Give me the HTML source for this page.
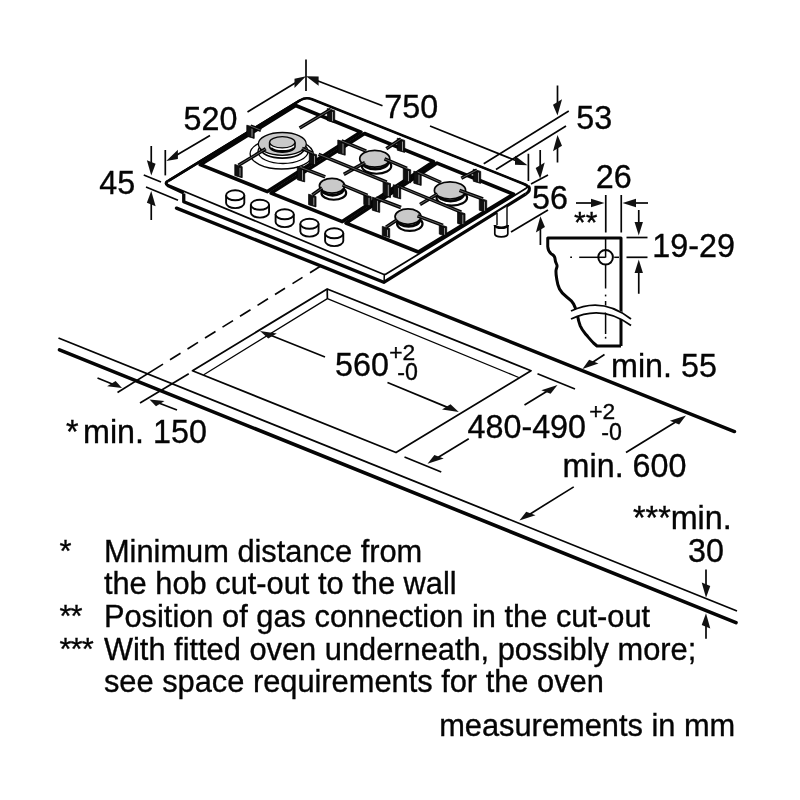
<!DOCTYPE html>
<html><head><meta charset="utf-8"><title>Hob installation dimensions</title>
<style>
html,body{margin:0;padding:0;background:#fff;}
body{width:800px;height:800px;overflow:hidden;font-family:"Liberation Sans",sans-serif;}
svg{display:block;font-family:"Liberation Sans",sans-serif;}
svg line, svg path, svg ellipse, svg polyline{stroke:#050505;stroke-linecap:butt;stroke-linejoin:round;}
svg text{fill:#050505;stroke:#050505;stroke-width:0.35px;}
svg{will-change:transform;}
</style></head><body>
<svg width="800" height="800" viewBox="0 0 800 800">
<rect x="0" y="0" width="800" height="800" fill="#fff" stroke="none"/>
<line x1="58.50" y1="338.00" x2="737.00" y2="611.00" stroke-width="1.8" />
<line x1="59.50" y1="349.90" x2="736.00" y2="622.60" stroke-width="3.6" style="stroke-linecap:round"/>
<line x1="176.50" y1="208.15" x2="734.50" y2="431.60" stroke-width="3.4" style="stroke-linecap:round"/>
<line x1="320.00" y1="266.50" x2="310.00" y2="272.72" stroke-width="1.7" />
<line x1="302.50" y1="277.38" x2="292.50" y2="283.61" stroke-width="1.7" />
<line x1="285.00" y1="288.27" x2="275.00" y2="294.49" stroke-width="1.7" />
<line x1="268.00" y1="298.84" x2="257.50" y2="305.38" stroke-width="1.7" />
<line x1="250.50" y1="309.73" x2="240.00" y2="316.26" stroke-width="1.7" />
<line x1="233.00" y1="320.61" x2="222.50" y2="327.14" stroke-width="1.7" />
<line x1="215.50" y1="331.50" x2="205.00" y2="338.03" stroke-width="1.7" />
<line x1="198.00" y1="342.38" x2="187.50" y2="348.92" stroke-width="1.7" />
<line x1="180.50" y1="353.27" x2="170.00" y2="359.80" stroke-width="1.7" />
<line x1="163.00" y1="364.15" x2="117.50" y2="392.45" stroke-width="1.7" />
<line x1="188.75" y1="373.75" x2="140.00" y2="403.00" stroke-width="1.7" />
<line x1="97.50" y1="378.00" x2="113.48" y2="384.52" stroke-width="1.7" />
<polygon points="122.00,388.00 107.09,386.26 115.62,381.04" fill="#111" stroke="none"/>
<line x1="177.00" y1="410.00" x2="158.09" y2="402.78" stroke-width="1.7" />
<polygon points="149.50,399.50 155.98,406.21 164.51,400.99" fill="#111" stroke="none"/>
<path d="M192.50,370.75 L327.20,289.00 L531.00,370.75 L396.00,452.50 Z" stroke-width="1.8" fill="none" />
<path d="M203.75,374.80 L327.40,298.60 L518.75,377.50" stroke-width="1.3" fill="none" />
<line x1="327.20" y1="289.00" x2="327.40" y2="298.60" stroke-width="1.7" />
<line x1="325.00" y1="357.00" x2="270.03" y2="335.01" stroke-width="1.7" />
<polygon points="260.00,331.00 268.27,338.62 276.80,333.40" fill="#111" stroke="none"/>
<line x1="387.50" y1="382.50" x2="448.77" y2="407.87" stroke-width="1.7" />
<polygon points="458.75,412.00 442.01,409.45 450.54,404.23" fill="#111" stroke="none"/>
<line x1="537.50" y1="373.75" x2="575.00" y2="389.00" stroke-width="1.7" />
<line x1="404.50" y1="457.00" x2="441.25" y2="472.00" stroke-width="1.7" />
<line x1="524.50" y1="405.00" x2="548.26" y2="390.60" stroke-width="1.7" />
<polygon points="557.50,385.00 550.60,393.84 541.31,390.15" fill="#111" stroke="none"/>
<line x1="468.75" y1="438.75" x2="436.74" y2="458.15" stroke-width="1.7" />
<polygon points="427.50,463.75 443.69,458.60 434.40,454.91" fill="#111" stroke="none"/>
<line x1="604.50" y1="354.50" x2="591.52" y2="363.06" stroke-width="1.7" />
<polygon points="582.50,369.00 598.42,363.42 589.13,359.73" fill="#111" stroke="none"/>
<line x1="626.00" y1="452.50" x2="676.81" y2="421.17" stroke-width="1.7" />
<polygon points="686.00,415.50 679.15,424.43 669.86,420.74" fill="#111" stroke="none"/>
<line x1="573.75" y1="486.90" x2="528.58" y2="514.91" stroke-width="1.7" />
<polygon points="519.40,520.60 535.52,515.33 526.23,511.64" fill="#111" stroke="none"/>
<line x1="706.00" y1="569.40" x2="706.00" y2="587.00" stroke-width="1.7" />
<polygon points="706.00,597.80 710.27,586.00 701.73,582.60" fill="#111" stroke="none"/>
<line x1="706.00" y1="638.70" x2="706.00" y2="624.00" stroke-width="1.7" />
<polygon points="706.00,613.20 710.27,628.40 701.73,625.00" fill="#111" stroke="none"/>
<text x="183.50" y="130.00" font-size="32.3" text-anchor="start" >520</text>
<text x="384.30" y="118.00" font-size="32.3" text-anchor="start" >750</text>
<text x="99.30" y="193.50" font-size="32.3" text-anchor="start" >45</text>
<text x="576.30" y="128.90" font-size="32.3" text-anchor="start" >53</text>
<text x="532.00" y="208.50" font-size="32.3" text-anchor="start" >56</text>
<text x="595.70" y="187.50" font-size="32.3" text-anchor="start" >26</text>
<text x="652.30" y="257.30" font-size="32.3" text-anchor="start" >19-29</text>
<text x="574.00" y="231.80" font-size="30.038999999999998" text-anchor="start" >**</text>
<text x="335.00" y="375.70" font-size="32.3" text-anchor="start" >560</text>
<text x="389.30" y="360.20" font-size="22.8" text-anchor="start" >+2</text>
<text x="397.30" y="380.30" font-size="23.2" text-anchor="start" >-0</text>
<text x="467.50" y="437.50" font-size="32.3" text-anchor="start" >480-490</text>
<text x="589.30" y="419.20" font-size="22.8" text-anchor="start" >+2</text>
<text x="601.30" y="439.80" font-size="23.2" text-anchor="start" >-0</text>
<text x="611.00" y="376.50" font-size="32.3" text-anchor="start" >min. 55</text>
<text x="562.60" y="476.80" font-size="32.3" text-anchor="start" >min. 600</text>
<text x="66.00" y="443.30" font-size="32.3" text-anchor="start" >*</text>
<text x="83.00" y="443.30" font-size="32.3" text-anchor="start" >min. 150</text>
<text x="633.00" y="528.80" font-size="32.3" text-anchor="start" >***min.</text>
<text x="688.00" y="562.00" font-size="32.3" text-anchor="start" >30</text>
<text x="59.50" y="561.80" font-size="30.8" text-anchor="start" >*</text>
<text x="103.95" y="561.80" font-size="30.8" text-anchor="start" >Minimum distance from</text>
<text x="103.95" y="594.40" font-size="30.8" text-anchor="start" >the hob cut-out to the wall</text>
<text x="59.50" y="627.00" font-size="30.8" text-anchor="start" letter-spacing="-0.9">**</text>
<text x="103.95" y="627.00" font-size="30.8" text-anchor="start" >Position of gas connection in the cut-out</text>
<text x="59.50" y="659.60" font-size="30.8" text-anchor="start" letter-spacing="-0.9">***</text>
<text x="103.95" y="659.60" font-size="30.8" text-anchor="start" >With fitted oven underneath, possibly more;</text>
<text x="103.95" y="692.30" font-size="30.8" text-anchor="start" >see space requirements for the oven</text>
<text x="439.20" y="735.80" font-size="30.8" text-anchor="start" >measurements in mm</text>
<line x1="165.30" y1="150.00" x2="165.30" y2="175.40" stroke-width="1.7" />
<line x1="210.00" y1="135.50" x2="175.57" y2="155.65" stroke-width="1.7" />
<polygon points="166.25,161.10 177.90,158.88 177.90,149.68" fill="#111" stroke="none"/>
<line x1="247.50" y1="112.00" x2="296.78" y2="81.93" stroke-width="1.7" />
<polygon points="306.00,76.30 294.48,87.93 294.48,78.73" fill="#111" stroke="none"/>
<line x1="306.00" y1="59.50" x2="306.00" y2="91.00" stroke-width="1.7" />
<line x1="382.50" y1="105.80" x2="316.08" y2="80.19" stroke-width="1.7" />
<polygon points="306.00,76.30 318.60,85.76 318.60,76.56" fill="#111" stroke="none"/>
<line x1="430.00" y1="126.00" x2="517.48" y2="161.26" stroke-width="1.7" />
<polygon points="527.50,165.30 514.98,164.85 514.98,155.65" fill="#111" stroke="none"/>
<line x1="528.40" y1="153.75" x2="528.40" y2="181.00" stroke-width="1.7" />
<line x1="151.25" y1="146.00" x2="151.25" y2="164.60" stroke-width="1.7" />
<polygon points="151.25,175.40 155.62,163.63 146.88,160.17" fill="#111" stroke="none"/>
<line x1="151.25" y1="220.00" x2="151.25" y2="201.80" stroke-width="1.7" />
<polygon points="151.25,191.00 155.62,206.23 146.88,202.77" fill="#111" stroke="none"/>
<line x1="143.75" y1="175.00" x2="161.00" y2="182.00" stroke-width="1.7" />
<line x1="146.00" y1="187.00" x2="178.00" y2="200.30" stroke-width="1.7" />
<line x1="557.50" y1="85.50" x2="557.50" y2="104.70" stroke-width="1.7" />
<polygon points="557.50,115.50 552.98,104.77 562.02,99.23" fill="#111" stroke="none"/>
<line x1="557.50" y1="162.50" x2="557.50" y2="145.80" stroke-width="1.7" />
<polygon points="557.50,135.00 552.98,151.27 562.02,145.73" fill="#111" stroke="none"/>
<line x1="483.75" y1="163.75" x2="568.75" y2="111.00" stroke-width="1.7" />
<line x1="496.00" y1="169.50" x2="566.00" y2="126.00" stroke-width="1.7" />
<line x1="540.20" y1="150.00" x2="540.20" y2="168.00" stroke-width="1.7" />
<polygon points="540.20,178.80 535.68,168.07 544.72,162.53" fill="#111" stroke="none"/>
<line x1="540.40" y1="245.00" x2="540.40" y2="227.10" stroke-width="1.7" />
<polygon points="540.40,216.30 535.88,232.57 544.92,227.03" fill="#111" stroke="none"/>
<line x1="531.00" y1="184.00" x2="548.00" y2="175.00" stroke-width="1.7" />
<line x1="511.00" y1="232.00" x2="548.00" y2="210.00" stroke-width="1.7" />
<line x1="605.75" y1="195.00" x2="605.75" y2="232.50" stroke-width="1.7" />
<line x1="621.25" y1="195.00" x2="621.25" y2="232.50" stroke-width="1.7" />
<line x1="576.00" y1="203.00" x2="593.70" y2="203.00" stroke-width="1.7" />
<polygon points="604.50,203.00 591.00,207.20 591.00,198.80" fill="#111" stroke="none"/>
<line x1="648.00" y1="203.00" x2="633.30" y2="203.00" stroke-width="1.7" />
<polygon points="622.50,203.00 636.00,198.80 636.00,207.20" fill="#111" stroke="none"/>
<line x1="605.60" y1="238.00" x2="605.60" y2="257.50" stroke-width="1.5" />
<line x1="605.60" y1="264.80" x2="605.60" y2="288.50" stroke-width="1.5" />
<line x1="605.60" y1="294.60" x2="605.60" y2="296.40" stroke-width="1.5" />
<line x1="605.60" y1="301.00" x2="605.60" y2="334.00" stroke-width="1.5" />
<line x1="605.60" y1="336.80" x2="605.60" y2="338.60" stroke-width="1.5" />
<line x1="570.20" y1="257.30" x2="572.00" y2="257.30" stroke-width="1.5" />
<line x1="579.20" y1="257.30" x2="605.60" y2="257.30" stroke-width="1.5" />
<line x1="614.20" y1="257.30" x2="619.00" y2="257.30" stroke-width="1.5" />
<line x1="626.50" y1="237.50" x2="647.50" y2="237.50" stroke-width="1.7" />
<line x1="626.50" y1="257.30" x2="647.50" y2="257.30" stroke-width="1.7" />
<ellipse cx="605.60" cy="257.30" rx="7.30" ry="7.30" stroke-width="2.0" fill="none" />
<line x1="638.75" y1="210.00" x2="638.75" y2="224.70" stroke-width="1.7" />
<polygon points="638.75,235.50 634.55,222.00 642.95,222.00" fill="#111" stroke="none"/>
<line x1="638.75" y1="293.75" x2="638.75" y2="270.30" stroke-width="1.7" />
<polygon points="638.75,259.50 642.95,273.00 634.55,273.00" fill="#111" stroke="none"/>
<path d="M621.0,346 L621.0,238 L547.75,238 L547.75,246.5 C547.9,250 549,251.8 551,253.6 C553,255.2 554.6,255.6 554.9,258 C555.2,261 555.3,262.3 556.6,264.3 C558,266.4 556.2,268 556,270.5 C555.8,274 556.3,276 556.8,279.5 C557.3,283 557.8,285.5 559.5,289 C561.5,293 564,295 567,297.3 C570,299.5 572,300.8 573.6,304 C575,306.8 575.8,308.8 576.4,311.5" stroke-width="3.0" fill="none" />
<path d="M577.6,316 C578.2,319.5 578.8,322 580.2,325.8 C581.8,329.8 583.5,331.6 586.2,334.8 C589,338 591,340.5 593.5,343 L597,346 L621.0,346" stroke-width="3.0" fill="none" />
<path d="M571,315 Q602,298 631,322" stroke-width="7" fill="none" style="stroke:#fff"/>
<path d="M571,311 Q602,296 631,319" stroke-width="1.8" fill="none" />
<path d="M571,319 Q602,304 631,325.5" stroke-width="1.8" fill="none" />
<path d="M183.75,193.50 L183.75,201.75 L383.80,282.30 L525.60,194.20" stroke-width="3.3" fill="none" />
<path d="M525.6,194.2 Q531.3,190.6 528.6,186.0" stroke-width="3.0" fill="none" />
<line x1="384.30" y1="275.00" x2="384.10" y2="282.30" stroke-width="1.5" />
<path d="M300.25,100.19 Q305.80,96.80 311.84,99.21 L524.96,184.35 Q529.60,186.20 525.34,188.81 L386.08,274.02 Q384.80,274.80 383.41,274.22 L168.19,184.74 Q164.50,183.20 167.91,181.11 Z" stroke-width="1.7" fill="none" />
<path d="M168.74,180.61 L300.15,100.26 Q305.80,96.80 312.07,99.30 L523.33,183.70 Q529.60,186.20 528.6,188.6" stroke-width="2.6" fill="none" />
<path d="M168.74,180.61 L300.15,100.26" stroke-width="2.6" fill="none" />
<path d="M168.2,180.7 Q163.9,183.2 168.2,186 L183.75,193.2" stroke-width="3.0" fill="none" />
<path d="M295.70,105.50 L360.93,132.07 L267.37,191.59 L200.20,164.70 Z" stroke-width="3.6" fill="none" />
<path d="M364.52,133.53 L433.57,161.65 L342.29,221.58 L271.08,193.07 Z" stroke-width="3.6" fill="none" />
<path d="M437.05,163.07 L513.50,194.20 L418.30,252.00 L346.00,223.06 Z" stroke-width="3.6" fill="none" />
<ellipse cx="281.60" cy="153.80" rx="31.50" ry="15.20" stroke-width="1.3" fill="#fff" />
<ellipse cx="283.00" cy="151.50" rx="25.00" ry="12.00" stroke-width="1.3" fill="#fff" />
<ellipse cx="282.30" cy="148.30" rx="22.00" ry="9.80" stroke-width="1.7" fill="#fff" />
<ellipse cx="282.30" cy="143.90" rx="24.00" ry="11.40" stroke-width="1.3" fill="#c9c9c9" />
<path d="M269.6,142.3 L269.6,146.5 A12.7,5.6 0 0 0 295,146.5 L295,142.3" stroke-width="1.6" fill="#fff" />
<path d="M271,148 A12.7,5.6 0 0 0 294,148" stroke-width="2.2" fill="none" />
<ellipse cx="282.30" cy="142.30" rx="12.70" ry="5.60" stroke-width="1.3" fill="#c9c9c9" />
<ellipse cx="376.55" cy="165.95" rx="14.70" ry="7.81" stroke-width="2.2" fill="#fff" />
<ellipse cx="375.35" cy="161.95" rx="12.90" ry="7.22" stroke-width="2.8" fill="#fff" />
<ellipse cx="374.75" cy="158.75" rx="15.00" ry="8.40" stroke-width="1.7" fill="#c9c9c9" />
<ellipse cx="333.80" cy="192.95" rx="12.35" ry="6.79" stroke-width="2.2" fill="#fff" />
<ellipse cx="332.60" cy="188.95" rx="10.84" ry="6.28" stroke-width="2.8" fill="#fff" />
<ellipse cx="332.00" cy="185.75" rx="12.60" ry="7.30" stroke-width="1.7" fill="#c9c9c9" />
<ellipse cx="451.80" cy="197.60" rx="15.29" ry="8.00" stroke-width="2.2" fill="#fff" />
<ellipse cx="450.60" cy="193.60" rx="13.42" ry="7.40" stroke-width="2.8" fill="#fff" />
<ellipse cx="450.00" cy="190.40" rx="15.60" ry="8.60" stroke-width="1.7" fill="#c9c9c9" />
<ellipse cx="409.80" cy="223.80" rx="12.74" ry="7.16" stroke-width="2.2" fill="#fff" />
<ellipse cx="408.60" cy="219.80" rx="11.18" ry="6.62" stroke-width="2.8" fill="#fff" />
<ellipse cx="408.00" cy="216.60" rx="13.00" ry="7.70" stroke-width="1.7" fill="#c9c9c9" />
<path d="M327.30,108.50 L334.70,110.70 L334.70,122.70 L327.30,120.50 Z" fill="#111" stroke-width="0.8"/>
<line x1="332.50" y1="111.90" x2="332.50" y2="121.10" stroke-width="0.7" style="stroke:#ccc"/>
<line x1="331.00" y1="109.30" x2="299.60" y2="128.00" stroke-width="3.5" stroke-linecap="round"/>
<line x1="331.00" y1="109.30" x2="299.60" y2="128.00" stroke-width="0.6" stroke-linecap="round" style="stroke:#999"/>
<path d="M246.80,125.20 L254.20,127.40 L254.20,138.40 L246.80,136.20 Z" fill="#111" stroke-width="0.8"/>
<line x1="252.00" y1="128.60" x2="252.00" y2="136.80" stroke-width="0.7" style="stroke:#ccc"/>
<line x1="250.50" y1="126.00" x2="261.00" y2="130.30" stroke-width="3.5" stroke-linecap="round"/>
<line x1="250.50" y1="126.00" x2="261.00" y2="130.30" stroke-width="0.6" stroke-linecap="round" style="stroke:#999"/>
<path d="M234.80,164.50 L242.20,166.70 L242.20,177.70 L234.80,175.50 Z" fill="#111" stroke-width="0.8"/>
<line x1="240.00" y1="167.90" x2="240.00" y2="176.10" stroke-width="0.7" style="stroke:#ccc"/>
<line x1="238.50" y1="165.30" x2="265.70" y2="148.80" stroke-width="3.5" stroke-linecap="round"/>
<line x1="238.50" y1="165.30" x2="265.70" y2="148.80" stroke-width="0.6" stroke-linecap="round" style="stroke:#999"/>
<path d="M309.30,152.50 L316.70,154.70 L316.70,165.70 L309.30,163.50 Z" fill="#111" stroke-width="0.8"/>
<line x1="314.50" y1="155.90" x2="314.50" y2="164.10" stroke-width="0.7" style="stroke:#ccc"/>
<line x1="313.00" y1="153.30" x2="302.00" y2="148.30" stroke-width="3.5" stroke-linecap="round"/>
<line x1="313.00" y1="153.30" x2="302.00" y2="148.30" stroke-width="0.6" stroke-linecap="round" style="stroke:#999"/>
<path d="M337.80,140.00 L345.20,142.20 L345.20,155.20 L337.80,153.00 Z" fill="#111" stroke-width="0.8"/>
<line x1="343.00" y1="143.40" x2="343.00" y2="153.60" stroke-width="0.7" style="stroke:#ccc"/>
<line x1="341.50" y1="140.80" x2="366.20" y2="151.20" stroke-width="3.5" stroke-linecap="round"/>
<line x1="341.50" y1="140.80" x2="366.20" y2="151.20" stroke-width="0.6" stroke-linecap="round" style="stroke:#999"/>
<path d="M397.30,138.20 L404.70,140.40 L404.70,152.40 L397.30,150.20 Z" fill="#111" stroke-width="0.8"/>
<line x1="402.50" y1="141.60" x2="402.50" y2="150.80" stroke-width="0.7" style="stroke:#ccc"/>
<line x1="401.00" y1="139.00" x2="386.30" y2="148.70" stroke-width="3.5" stroke-linecap="round"/>
<line x1="401.00" y1="139.00" x2="386.30" y2="148.70" stroke-width="0.6" stroke-linecap="round" style="stroke:#999"/>
<line x1="365.00" y1="162.50" x2="343.80" y2="174.40" stroke-width="3.5" stroke-linecap="round"/>
<line x1="365.00" y1="162.50" x2="343.80" y2="174.40" stroke-width="0.6" stroke-linecap="round" style="stroke:#999"/>
<path d="M403.30,167.60 L410.70,169.80 L410.70,182.80 L403.30,180.60 Z" fill="#111" stroke-width="0.8"/>
<line x1="408.50" y1="171.00" x2="408.50" y2="181.20" stroke-width="0.7" style="stroke:#ccc"/>
<line x1="407.00" y1="168.40" x2="384.50" y2="158.80" stroke-width="3.5" stroke-linecap="round"/>
<line x1="407.00" y1="168.40" x2="384.50" y2="158.80" stroke-width="0.6" stroke-linecap="round" style="stroke:#999"/>
<path d="M383.10,181.40 L390.50,183.60 L390.50,197.60 L383.10,195.40 Z" fill="#111" stroke-width="0.8"/>
<line x1="388.30" y1="184.80" x2="388.30" y2="196.00" stroke-width="0.7" style="stroke:#ccc"/>
<line x1="386.80" y1="182.20" x2="318.60" y2="154.30" stroke-width="3.5" stroke-linecap="round"/>
<line x1="386.80" y1="182.20" x2="318.60" y2="154.30" stroke-width="0.6" stroke-linecap="round" style="stroke:#999"/>
<path d="M297.30,166.70 L304.70,168.90 L304.70,181.90 L297.30,179.70 Z" fill="#111" stroke-width="0.8"/>
<line x1="302.50" y1="170.10" x2="302.50" y2="180.30" stroke-width="0.7" style="stroke:#ccc"/>
<line x1="301.00" y1="167.50" x2="325.20" y2="176.80" stroke-width="3.5" stroke-linecap="round"/>
<line x1="301.00" y1="167.50" x2="325.20" y2="176.80" stroke-width="0.6" stroke-linecap="round" style="stroke:#999"/>
<path d="M308.60,194.20 L316.00,196.40 L316.00,206.90 L308.60,204.70 Z" fill="#111" stroke-width="0.8"/>
<line x1="313.80" y1="197.60" x2="313.80" y2="205.30" stroke-width="0.7" style="stroke:#ccc"/>
<line x1="312.30" y1="195.00" x2="322.20" y2="188.00" stroke-width="3.5" stroke-linecap="round"/>
<line x1="312.30" y1="195.00" x2="322.20" y2="188.00" stroke-width="0.6" stroke-linecap="round" style="stroke:#999"/>
<path d="M363.80,194.50 L371.20,196.70 L371.20,206.70 L363.80,204.50 Z" fill="#111" stroke-width="0.8"/>
<line x1="369.00" y1="197.90" x2="369.00" y2="205.10" stroke-width="0.7" style="stroke:#ccc"/>
<line x1="367.50" y1="195.30" x2="342.50" y2="185.00" stroke-width="3.5" stroke-linecap="round"/>
<line x1="367.50" y1="195.30" x2="342.50" y2="185.00" stroke-width="0.6" stroke-linecap="round" style="stroke:#999"/>
<path d="M473.30,169.20 L480.70,171.40 L480.70,183.40 L473.30,181.20 Z" fill="#111" stroke-width="0.8"/>
<line x1="478.50" y1="172.60" x2="478.50" y2="181.80" stroke-width="0.7" style="stroke:#ccc"/>
<line x1="477.00" y1="170.00" x2="461.30" y2="178.20" stroke-width="3.5" stroke-linecap="round"/>
<line x1="477.00" y1="170.00" x2="461.30" y2="178.20" stroke-width="0.6" stroke-linecap="round" style="stroke:#999"/>
<path d="M413.80,171.20 L421.20,173.40 L421.20,185.40 L413.80,183.20 Z" fill="#111" stroke-width="0.8"/>
<line x1="419.00" y1="174.60" x2="419.00" y2="183.80" stroke-width="0.7" style="stroke:#ccc"/>
<line x1="417.50" y1="172.00" x2="441.00" y2="182.50" stroke-width="3.5" stroke-linecap="round"/>
<line x1="417.50" y1="172.00" x2="441.00" y2="182.50" stroke-width="0.6" stroke-linecap="round" style="stroke:#999"/>
<path d="M479.30,198.20 L486.70,200.40 L486.70,212.40 L479.30,210.20 Z" fill="#111" stroke-width="0.8"/>
<line x1="484.50" y1="201.60" x2="484.50" y2="210.80" stroke-width="0.7" style="stroke:#ccc"/>
<line x1="483.00" y1="199.00" x2="459.50" y2="190.40" stroke-width="3.5" stroke-linecap="round"/>
<line x1="483.00" y1="199.00" x2="459.50" y2="190.40" stroke-width="0.6" stroke-linecap="round" style="stroke:#999"/>
<line x1="437.60" y1="193.90" x2="420.00" y2="204.40" stroke-width="3.5" stroke-linecap="round"/>
<line x1="437.60" y1="193.90" x2="420.00" y2="204.40" stroke-width="0.6" stroke-linecap="round" style="stroke:#999"/>
<path d="M457.60,211.40 L465.00,213.60 L465.00,225.60 L457.60,223.40 Z" fill="#111" stroke-width="0.8"/>
<line x1="462.80" y1="214.80" x2="462.80" y2="224.00" stroke-width="0.7" style="stroke:#ccc"/>
<line x1="461.30" y1="212.20" x2="397.00" y2="185.50" stroke-width="3.5" stroke-linecap="round"/>
<line x1="461.30" y1="212.20" x2="397.00" y2="185.50" stroke-width="0.6" stroke-linecap="round" style="stroke:#999"/>
<path d="M393.30,184.70 L400.70,186.90 L400.70,198.90 L393.30,196.70 Z" fill="#111" stroke-width="0.8"/>
<line x1="398.50" y1="188.10" x2="398.50" y2="197.30" stroke-width="0.7" style="stroke:#ccc"/>
<path d="M372.30,197.20 L379.70,199.40 L379.70,212.40 L372.30,210.20 Z" fill="#111" stroke-width="0.8"/>
<line x1="377.50" y1="200.60" x2="377.50" y2="210.80" stroke-width="0.7" style="stroke:#ccc"/>
<line x1="376.00" y1="198.00" x2="401.00" y2="207.50" stroke-width="3.5" stroke-linecap="round"/>
<line x1="376.00" y1="198.00" x2="401.00" y2="207.50" stroke-width="0.6" stroke-linecap="round" style="stroke:#999"/>
<path d="M439.30,224.60 L446.70,226.80 L446.70,236.30 L439.30,234.10 Z" fill="#111" stroke-width="0.8"/>
<line x1="444.50" y1="228.00" x2="444.50" y2="234.70" stroke-width="0.7" style="stroke:#ccc"/>
<line x1="443.00" y1="225.40" x2="417.50" y2="215.80" stroke-width="3.5" stroke-linecap="round"/>
<line x1="443.00" y1="225.40" x2="417.50" y2="215.80" stroke-width="0.6" stroke-linecap="round" style="stroke:#999"/>
<path d="M382.30,226.40 L389.70,228.60 L389.70,237.60 L382.30,235.40 Z" fill="#111" stroke-width="0.8"/>
<line x1="387.50" y1="229.80" x2="387.50" y2="236.00" stroke-width="0.7" style="stroke:#ccc"/>
<line x1="386.00" y1="227.20" x2="396.50" y2="220.30" stroke-width="3.5" stroke-linecap="round"/>
<line x1="386.00" y1="227.20" x2="396.50" y2="220.30" stroke-width="0.6" stroke-linecap="round" style="stroke:#999"/>
<path d="M226.10,195.30 L226.10,203.10 A9.1,5.0 0 0 0 244.30,203.10 L244.30,195.30" fill="#fff" stroke-width="1.9"/>
<ellipse cx="235.20" cy="195.30" rx="9.10" ry="5.00" stroke-width="1.9" fill="#fff" />
<path d="M250.85,204.80 L250.85,212.60 A9.1,5.0 0 0 0 269.05,212.60 L269.05,204.80" fill="#fff" stroke-width="1.9"/>
<ellipse cx="259.95" cy="204.80" rx="9.10" ry="5.00" stroke-width="1.9" fill="#fff" />
<path d="M275.60,214.30 L275.60,222.10 A9.1,5.0 0 0 0 293.80,222.10 L293.80,214.30" fill="#fff" stroke-width="1.9"/>
<ellipse cx="284.70" cy="214.30" rx="9.10" ry="5.00" stroke-width="1.9" fill="#fff" />
<path d="M300.35,223.80 L300.35,231.60 A9.1,5.0 0 0 0 318.55,231.60 L318.55,223.80" fill="#fff" stroke-width="1.9"/>
<ellipse cx="309.45" cy="223.80" rx="9.10" ry="5.00" stroke-width="1.9" fill="#fff" />
<path d="M325.10,233.30 L325.10,241.10 A9.1,5.0 0 0 0 343.30,241.10 L343.30,233.30" fill="#fff" stroke-width="1.9"/>
<ellipse cx="334.20" cy="233.30" rx="9.10" ry="5.00" stroke-width="1.9" fill="#fff" />
<path d="M497,212.5 L497,226 L507,226 L507,206.5" fill="#fff" stroke-width="1.4"/>
<path d="M494.8,225 L494.8,234 A6.5,2.8 0 0 0 507.8,234 L507.8,225" fill="#fff" stroke-width="1.7"/>
<path d="M494.8,225 A6.5,2.8 0 0 0 507.8,225" fill="none" stroke-width="2.6"/>
</svg>
</body></html>
